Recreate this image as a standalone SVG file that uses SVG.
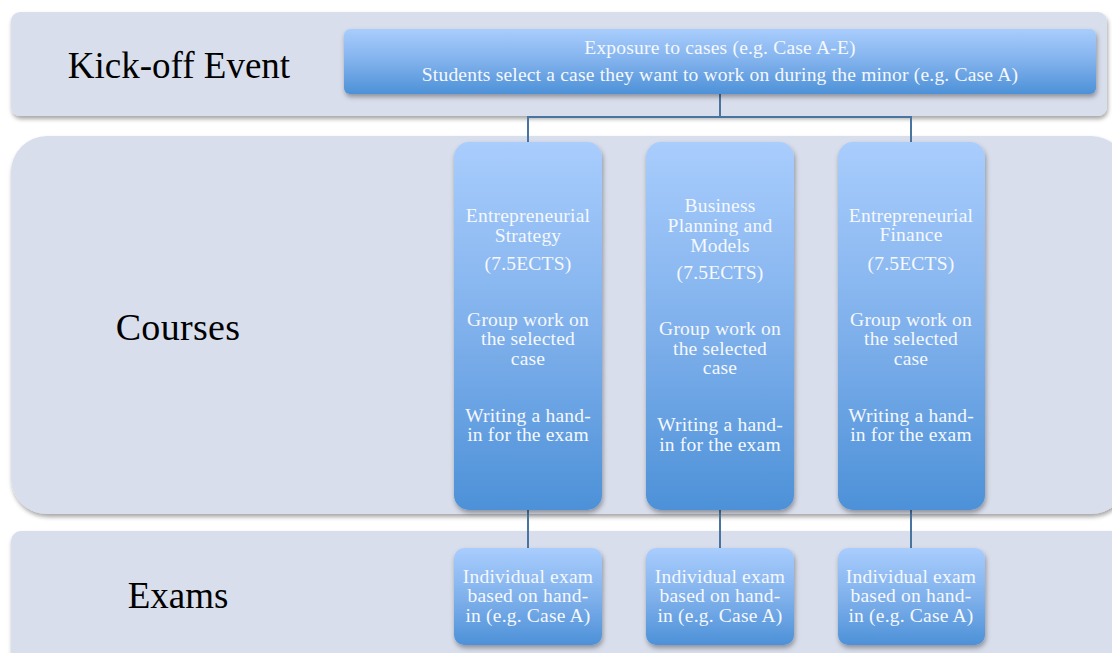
<svg xmlns="http://www.w3.org/2000/svg" width="1112" height="653" viewBox="0 0 1112 653">
  <defs>
    <linearGradient id="boxFill" x1="0" y1="0" x2="0" y2="1">
      <stop offset="0" stop-color="#a9cdfd"/>
      <stop offset="0.5" stop-color="#80b1ec"/>
      <stop offset="1" stop-color="#4d91d8"/>
    </linearGradient>
    <filter id="bandShadow" x="-5%" y="-10%" width="110%" height="130%">
      <feDropShadow dx="1" dy="3" stdDeviation="2" flood-color="#000" flood-opacity="0.35"/>
    </filter>
    <filter id="boxShadow" x="-10%" y="-10%" width="120%" height="125%">
      <feDropShadow dx="1" dy="3" stdDeviation="2.5" flood-color="#000" flood-opacity="0.35"/>
    </filter>
  </defs>
  <style>
    .band { fill: #d9deec; filter: url(#bandShadow); }
    .box { fill: url(#boxFill); filter: url(#boxShadow); }
    .label { font-family: "Liberation Serif", "Times New Roman", serif; font-size: 37px; fill: #000; text-anchor: middle; }
    .wide { font-size: 38px; letter-spacing: 0.3px; }
    .txt { font-family: "Liberation Serif", "Times New Roman", serif; font-size: 19.5px; letter-spacing: 0.2px; fill: #f5f8fd; text-anchor: middle; }
    .conn { fill: none; stroke: #4a74a0; stroke-width: 2; }
  </style>

  <rect width="1112" height="653" fill="#ffffff"/>

  <!-- row bands -->
  <g id="band-kickoff">
    <rect class="band" x="11" y="12" width="1096" height="104" rx="9"/>
    <text class="label" x="179" y="78">Kick-off Event</text>
  </g>
  <g id="band-courses">
    <rect class="band" x="11" y="136" width="1116" height="378" rx="36"/>
    <text class="label wide" x="178" y="340">Courses</text>
  </g>
  <g id="band-exams">
    <rect class="band" x="11" y="531" width="1120" height="140" rx="10"/>
    <text class="label" x="178" y="608">Exams</text>
  </g>

  <!-- connectors -->
  <g id="connectors">
    <path class="conn" d="M720 94 V117 M528 142 V117 H911 V142"/>
    <path class="conn" d="M528 510 V548 M720 510 V548 M911 510 V548"/>
  </g>

  <!-- kick-off node -->
  <g id="kickoff">
    <rect class="box" x="344" y="29" width="752" height="65" rx="6"/>
    <text class="txt" x="720" y="54">Exposure to cases (e.g. Case A-E)</text>
    <text class="txt" x="720" y="81">Students select a case they want to work on during the minor (e.g. Case A)</text>
  </g>

  <!-- course nodes -->
  <g id="course-strategy">
    <rect class="box" x="454" y="142" width="148" height="368" rx="15"/>
    <text class="txt" x="528" y="222">Entrepreneurial</text>
    <text class="txt" x="528" y="242">Strategy</text>
    <text class="txt" x="528" y="270">(7.5ECTS)</text>
    <text class="txt" x="528" y="326">Group work on</text>
    <text class="txt" x="528" y="345">the selected</text>
    <text class="txt" x="528" y="365">case</text>
    <text class="txt" x="528" y="422">Writing a hand-</text>
    <text class="txt" x="528" y="441">in for the exam</text>
  </g>
  <g id="course-planning">
    <rect class="box" x="646" y="142" width="148" height="368" rx="15"/>
    <text class="txt" x="720" y="212">Business</text>
    <text class="txt" x="720" y="232">Planning and</text>
    <text class="txt" x="720" y="252">Models</text>
    <text class="txt" x="720" y="279">(7.5ECTS)</text>
    <text class="txt" x="720" y="335">Group work on</text>
    <text class="txt" x="720" y="355">the selected</text>
    <text class="txt" x="720" y="374">case</text>
    <text class="txt" x="720" y="431">Writing a hand-</text>
    <text class="txt" x="720" y="451">in for the exam</text>
  </g>
  <g id="course-finance">
    <rect class="box" x="838" y="142" width="147" height="368" rx="15"/>
    <text class="txt" x="911" y="222">Entrepreneurial</text>
    <text class="txt" x="911" y="241">Finance</text>
    <text class="txt" x="911" y="270">(7.5ECTS)</text>
    <text class="txt" x="911" y="326">Group work on</text>
    <text class="txt" x="911" y="345">the selected</text>
    <text class="txt" x="911" y="365">case</text>
    <text class="txt" x="911" y="422">Writing a hand-</text>
    <text class="txt" x="911" y="441">in for the exam</text>
  </g>

  <!-- exam nodes -->
  <g id="exam-strategy">
    <rect class="box" x="454" y="548" width="148" height="97" rx="10"/>
    <text class="txt" x="528" y="583">Individual exam</text>
    <text class="txt" x="528" y="602">based on hand-</text>
    <text class="txt" x="528" y="622">in (e.g. Case A)</text>
  </g>
  <g id="exam-planning">
    <rect class="box" x="646" y="548" width="148" height="97" rx="10"/>
    <text class="txt" x="720" y="583">Individual exam</text>
    <text class="txt" x="720" y="602">based on hand-</text>
    <text class="txt" x="720" y="622">in (e.g. Case A)</text>
  </g>
  <g id="exam-finance">
    <rect class="box" x="838" y="548" width="147" height="97" rx="10"/>
    <text class="txt" x="911" y="583">Individual exam</text>
    <text class="txt" x="911" y="602">based on hand-</text>
    <text class="txt" x="911" y="622">in (e.g. Case A)</text>
  </g>
</svg>
